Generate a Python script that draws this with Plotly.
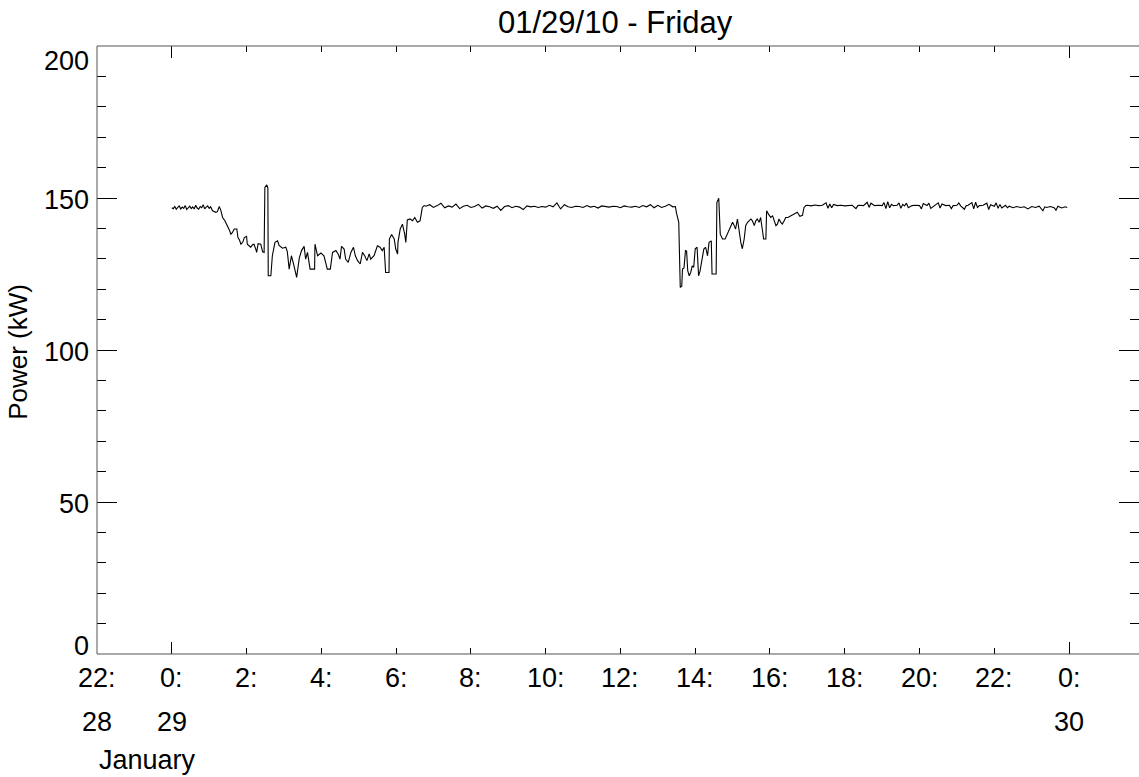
import plotly.graph_objects as go

# Hours since 00:00 on 29 January 2010 and the measured power (kW)
hours = [
    0.00, 0.04, 0.08, 0.12, 0.16, 0.20, 0.24, 0.28, 0.32, 0.36, 0.40, 0.44, 0.48, 0.52,
    0.56, 0.60, 0.64, 0.68, 0.72, 0.76, 0.80, 0.84, 0.88, 0.92, 0.96, 1.00, 1.04,
    1.09, 1.18, 1.22, 1.27, 1.31, 1.36, 1.42, 1.49, 1.54, 1.58, 1.62, 1.67, 1.74, 1.77,
    1.81, 1.85, 1.90, 1.94, 2.00, 2.02, 2.07, 2.11, 2.16, 2.20, 2.25, 2.27, 2.31, 2.38,
    2.43, 2.47, 2.49, 2.54, 2.57, 2.58, 2.65, 2.69, 2.76, 2.83, 2.87, 2.96, 3.05, 3.09,
    3.14, 3.20, 3.27, 3.34, 3.41, 3.47, 3.54, 3.58, 3.63, 3.70, 3.82, 3.83, 3.90, 3.99,
    4.07, 4.12, 4.16, 4.24, 4.30, 4.39, 4.45, 4.50, 4.54, 4.61, 4.65, 4.72, 4.79, 4.86,
    4.91, 4.97, 5.04, 5.10, 5.16, 5.22, 5.28, 5.32, 5.41, 5.50, 5.57, 5.63, 5.68, 5.72,
    5.81, 5.82, 5.88, 5.95, 5.99, 6.04, 6.05, 6.11, 6.17, 6.23, 6.26, 6.30, 6.37, 6.44,
    6.50, 6.57, 6.64, 6.68, 6.70, 6.75,
    6.8, 6.9, 7.0, 7.1, 7.2, 7.3, 7.4, 7.5, 7.6, 7.7, 7.8, 7.9, 8.0, 8.1, 8.2, 8.3, 8.4,
    8.5, 8.6, 8.7, 8.8, 8.9, 9.0, 9.1, 9.2, 9.3, 9.4, 9.5, 9.6, 9.7, 9.8, 9.9, 10.0,
    10.1, 10.2, 10.3, 10.4, 10.5, 10.6, 10.7, 10.8, 10.9, 11.0, 11.1, 11.2, 11.3, 11.4,
    11.5, 11.6, 11.7, 11.8, 11.9, 12.0, 12.1, 12.2, 12.3, 12.4, 12.5, 12.6, 12.7, 12.8,
    12.9, 13.0, 13.1, 13.2, 13.3, 13.4, 13.47,
    13.50, 13.53, 13.56, 13.60, 13.64, 13.66, 13.70, 13.74, 13.77, 13.80, 13.84, 13.88,
    13.92, 13.96, 14.00, 14.05, 14.09, 14.13, 14.18, 14.23, 14.28, 14.33, 14.37, 14.43,
    14.45, 14.56, 14.58, 14.63, 14.67, 14.73, 14.80, 14.88, 14.93, 15.00, 15.04, 15.08,
    15.13, 15.17, 15.22, 15.26, 15.31, 15.35, 15.40, 15.49, 15.53, 15.58, 15.62, 15.66,
    15.71, 15.75, 15.79, 15.83, 15.89, 15.91, 15.96, 16.02, 16.07, 16.11, 16.16, 16.20,
    16.24, 16.29, 16.33, 16.38, 16.42, 16.48, 16.56, 16.64, 16.73, 16.80, 16.87, 16.91,
    16.96,
    17.0, 17.1, 17.2, 17.3, 17.4, 17.5, 17.55, 17.6, 17.65, 17.7, 17.8, 17.9, 18.0, 18.1,
    18.2, 18.3, 18.35, 18.4, 18.5, 18.6, 18.65, 18.7, 18.8, 18.9, 19.0, 19.05, 19.1,
    19.15, 19.2, 19.25, 19.3, 19.4, 19.45, 19.5, 19.55, 19.6, 19.65, 19.7, 19.8, 19.9,
    20.0, 20.05, 20.1, 20.2, 20.25, 20.3, 20.4, 20.5, 20.55, 20.6, 20.7, 20.8, 20.85,
    20.9, 21.0, 21.05, 21.1, 21.2, 21.25, 21.3, 21.4, 21.45, 21.5, 21.55, 21.6, 21.7,
    21.8, 21.85, 21.9, 22.0, 22.05, 22.1, 22.15, 22.2, 22.3, 22.35, 22.4, 22.5, 22.6,
    22.7, 22.8, 22.9, 23.0, 23.1, 23.2, 23.3, 23.35, 23.4, 23.5, 23.6, 23.65, 23.7, 23.8,
    23.9, 23.95,
]

power_kw = [
    146.8, 146.5, 147.2, 146.3, 146.9, 147.4, 146.4, 147.0, 146.6, 147.5, 146.2, 146.9, 147.3, 146.5,
    147.1, 146.4, 147.6, 146.7, 146.3, 147.2, 146.8, 147.8, 146.4, 147.0, 147.4, 146.6, 147.1,
    145.8, 145.3, 145.5, 147.2, 146.0, 143.6, 142.5, 140.9, 139.5, 138.1, 138.6, 139.8, 139.8, 137.0,
    136.2, 134.8, 135.5, 137.0, 137.4, 134.8, 134.2, 133.8, 134.6, 134.8, 133.0, 132.1, 135.0, 134.8,
    132.3, 132.1, 153.5, 154.3, 153.3, 124.4, 124.4, 131.0, 135.4, 135.9, 134.4, 133.5, 133.8, 132.4,
    126.6, 131.0, 127.7, 123.9, 130.2, 132.7, 134.1, 129.9, 132.1, 126.6, 126.6, 134.8, 131.0, 131.9,
    131.0, 128.8, 126.6, 126.6, 132.1, 132.7, 131.6, 129.9, 134.1, 133.2, 129.9, 128.8, 132.1, 133.8,
    131.0, 129.4, 128.3, 132.1, 131.0, 129.4, 131.6, 129.9, 131.0, 134.3, 133.8, 132.7, 133.8, 125.5,
    125.5, 136.5, 138.0, 136.5, 133.2, 131.6, 135.4, 139.8, 141.4, 138.1, 135.4, 142.8, 143.1, 142.5,
    143.6, 142.0, 142.5, 145.3, 146.9, 147.5,
    147.3, 147.8, 146.9, 147.5, 148.3, 146.8, 147.4, 147.0, 148.0, 146.5, 147.3, 147.6, 146.9, 147.2, 147.9, 146.7, 147.4,
    147.1, 146.6, 147.3, 145.9, 147.2, 147.5, 146.8, 147.3, 147.0, 146.2, 147.4, 147.1, 147.3, 146.9, 147.2, 147.0,
    147.6, 147.1, 148.4, 146.4, 147.8, 147.1, 146.9, 147.3, 147.2, 146.9, 147.5, 147.0, 147.3, 146.7,
    147.4, 147.1, 147.0, 147.3, 147.2, 146.8, 147.4, 147.1, 147.0, 147.3, 146.9, 147.5, 147.1, 147.8,
    146.8, 147.6, 146.9, 147.3, 147.9, 147.1, 147.2,
    145.0, 143.5, 142.0, 120.6, 121.0, 126.6, 127.0, 132.7, 132.5, 126.1, 124.4, 125.5,
    127.7, 127.2, 133.3, 133.8, 124.4, 126.0, 129.4, 133.2, 133.8, 131.0, 135.4, 135.9,
    125.0, 125.0, 148.6, 149.9, 138.1, 136.5, 136.5, 138.7, 139.8, 142.0, 141.0, 139.8,
    143.1, 139.5, 135.4, 133.3, 136.5, 140.9, 142.0, 143.1, 142.5, 140.9, 142.5, 143.1,
    142.0, 143.6, 140.3, 136.5, 136.5, 145.8, 144.7, 143.6, 144.1, 142.5, 140.9, 141.4,
    143.1, 142.0, 141.4, 142.5, 143.6, 143.6, 144.1, 144.7, 145.3, 144.0, 144.3, 146.9,
    147.5,
    147.6, 147.4, 147.7, 147.5, 147.6, 148.4, 146.6, 148.0, 146.8, 147.9, 147.5, 147.6, 147.4, 147.5,
    147.6, 146.5, 147.5, 147.6, 147.5, 148.6, 146.9, 148.3, 147.5, 147.6, 147.5, 148.5, 146.5,
    148.8, 146.8, 147.9, 147.5, 147.6, 148.4, 146.6, 147.9, 147.4, 148.3, 146.8, 147.5, 147.6,
    147.5, 146.4, 148.2, 147.5, 148.3, 146.6, 147.5, 148.4, 146.7, 148.0, 147.5, 147.6, 146.5,
    147.5, 147.6, 148.4, 147.4, 146.3, 147.5, 147.6, 148.5, 146.4, 148.6, 146.9, 147.5, 147.6,
    148.3, 146.2, 147.8, 147.3, 148.4, 146.6, 147.9, 146.7, 147.6, 146.8, 147.3, 146.8, 147.2,
    146.9, 147.1, 146.4, 147.2, 146.9, 147.3, 145.8, 147.1, 146.9, 147.2, 146.8, 146.0, 147.3, 146.7,
    147.1, 146.9,
]

# Axis labelling
hour_tick_vals = [-2, 0, 2, 4, 6, 8, 10, 12, 14, 16, 18, 20, 22, 24]
hour_tick_text = ["22:", "0:", "2:", "4:", "6:", "8:", "10:", "12:", "14:", "16:", "18:", "20:", "22:", "0:"]
day_tick_vals = [-2, 0, 24]
day_tick_text = ["28", "29", "30"]
month_label = "January"
power_tick_vals = [0, 50, 100, 150, 200]
title_text = "01/29/10 - Friday"
y_title = "Power (kW)"

FONT = "Liberation Sans, Arial, Helvetica, sans-serif"
FS = 27
X_MIN, X_MAX = -2, 25.87
Y_MIN, Y_MAX = 0, 200

fig = go.Figure()
fig.add_trace(go.Scatter(
    x=hours, y=power_kw, mode="lines",
    line=dict(color="black", width=1.1),
    showlegend=False, hoverinfo="skip",
))

annotations = []
# hour labels and day-of-month labels under the time axis
for v, t in zip(hour_tick_vals, hour_tick_text):
    annotations.append(dict(x=v, xref="x", y=0, yref="paper", text=t, showarrow=False,
                            xanchor="center", yanchor="middle", yshift=-24,
                            font=dict(family=FONT, size=FS, color="black")))
for v, t in zip(day_tick_vals, day_tick_text):
    annotations.append(dict(x=v, xref="x", y=0, yref="paper", text=t, showarrow=False,
                            xanchor="center", yanchor="middle", yshift=-68,
                            font=dict(family=FONT, size=FS, color="black")))
annotations.append(dict(x=X_MIN, xref="x", y=0, yref="paper", text=month_label, showarrow=False,
                        xanchor="left", yanchor="middle", yshift=-106,
                        font=dict(family=FONT, size=FS, color="black")))
# power labels left of the axis; end labels nudged inside the frame
for v in power_tick_vals:
    shift = -2
    if v == 0:
        shift = 8
    elif v == 200:
        shift = -15
    annotations.append(dict(x=0, xref="paper", y=v, yref="y", text=str(v), showarrow=False,
                            xanchor="right", yanchor="middle", xshift=-6, yshift=shift,
                            font=dict(family=FONT, size=FS, color="black")))
annotations.append(dict(x=0, xref="paper", y=0.497, yref="paper", text=y_title, showarrow=False,
                        textangle=-90, xanchor="center", yanchor="middle", xshift=-79,
                        font=dict(family=FONT, size=26, color="black")))
annotations.append(dict(x=(615 - 97) / 1042, xref="paper", y=1, yref="paper", text=title_text,
                        showarrow=False, xanchor="center", yanchor="middle", yshift=23.5,
                        font=dict(family=FONT, size=31, color="black")))

# frame: left, top and bottom edges (right edge lies just beyond the page)
frame = [
    dict(type="line", xref="paper", yref="paper", x0=0, x1=0, y0=0, y1=1),
    dict(type="line", xref="paper", yref="paper", x0=0, x1=1, y0=1, y1=1),
    dict(type="line", xref="paper", yref="paper", x0=0, x1=1, y0=0, y1=0),
]
for s in frame:
    s["line"] = dict(color="#555555", width=1)
    s["layer"] = "above"

axis_common = dict(showgrid=False, zeroline=False, showline=False,
                   mirror="allticks", ticks="inside", tickcolor="black",
                   tickwidth=1, showticklabels=False)

fig.update_layout(
    width=1139, height=777, autosize=False,
    margin=dict(l=97, r=0, t=46, b=123, pad=0),
    paper_bgcolor="white", plot_bgcolor="white",
    xaxis=dict(range=[X_MIN, X_MAX], tickmode="array", tickvals=[0, 24], ticklen=12,
               minor=dict(tickmode="linear", tick0=0, dtick=2, ticklen=6, ticks="inside",
                          tickcolor="black", tickwidth=1),
               **axis_common),
    yaxis=dict(range=[Y_MIN, Y_MAX], tickmode="array", tickvals=power_tick_vals, ticklen=20,
               minor=dict(tickmode="linear", tick0=0, dtick=10, ticklen=9, ticks="inside",
                          tickcolor="black", tickwidth=1),
               **axis_common),
    shapes=frame,
    annotations=annotations,
)

fig.write_html("out.html")
